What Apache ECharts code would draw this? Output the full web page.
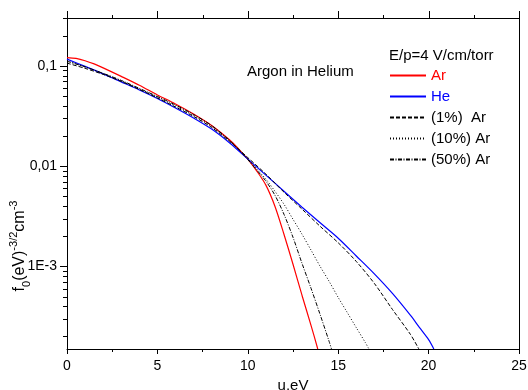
<!DOCTYPE html>
<html>
<head>
<meta charset="utf-8">
<script src="https://cdn.jsdelivr.net/npm/echarts@6/dist/echarts.min.js"></script>
<style>
  html, body { margin: 0; padding: 0; background: #fff; }
  #chart { width: 528px; height: 390px; }
</style>
</head>
<body>
<div id="chart"></div>
<script>
// Electron energy distribution f0(u), argon in helium, E/p = 4 V/cm/torr
var uAr   = [0, 0.5, 1, 1.5, 2, 3, 4, 5, 6, 7, 8, 9, 9.5, 10, 10.5, 11, 11.5, 12, 12.5, 13, 13.5, 13.87];
var fAr   = [0.121, 0.1185, 0.1125, 0.1045, 0.0955, 0.0785, 0.0641, 0.0513, 0.0417, 0.0331, 0.0254, 0.0182, 0.01479, 0.01175, 0.00891, 0.00646, 0.00398, 0.00209, 0.00105, 0.000513, 0.000257, 0.00015];

var uHe   = [0, 1, 2, 3, 4, 5, 6, 7, 8, 9, 10, 11, 12, 13, 14, 15, 16, 17, 18, 19, 19.5, 20, 20.29];
var fHe   = [0.1167, 0.0989, 0.0832, 0.0692, 0.0575, 0.0473, 0.0380, 0.0302, 0.0234, 0.0170, 0.01175, 0.00813, 0.00562, 0.00389, 0.00272, 0.00191, 0.00127, 0.000841, 0.000537, 0.000324, 0.000245, 0.000186, 0.00015];

var u1    = [0, 1, 2, 3, 4, 5, 6, 7, 8, 9, 10, 11, 12, 13, 14, 15, 16, 17, 18, 19, 19.46];
var f1    = [0.1064, 0.0944, 0.0822, 0.0700, 0.0582, 0.0479, 0.0389, 0.0313, 0.0243, 0.0176, 0.01216, 0.00832, 0.0055, 0.00372, 0.00251, 0.00172, 0.00112, 0.000676, 0.000372, 0.000209, 0.00015];

var u10   = [0, 1, 2, 3, 4, 5, 6, 7, 8, 9, 10, 10.5, 11, 11.5, 12, 12.5, 13, 13.5, 14, 14.5, 15, 15.5, 16, 16.5, 16.7];
var f10   = [0.1122, 0.0977, 0.0841, 0.0708, 0.0589, 0.0490, 0.0398, 0.0320, 0.0248, 0.0178, 0.0119, 0.00933, 0.00741, 0.00562, 0.00417, 0.00295, 0.00209, 0.00145, 0.0010, 0.000708, 0.00049, 0.000347, 0.000245, 0.000174, 0.00015];

var u50   = [0, 1, 2, 3, 4, 5, 6, 7, 8, 9, 9.5, 10, 10.5, 11, 11.5, 12, 12.5, 13, 13.5, 14, 14.5, 14.63];
var f50   = [0.111, 0.0977, 0.0841, 0.0716, 0.0596, 0.0495, 0.0407, 0.0327, 0.0254, 0.0180, 0.01462, 0.0116, 0.00912, 0.00708, 0.00513, 0.00331, 0.00195, 0.00107, 0.000603, 0.000331, 0.000178, 0.00015];

var xMajorTicks = [0, 5, 10, 15, 20, 25];
var xMinorTicks = [2.5, 7.5, 12.5, 17.5, 22.5];
var yMajorTicks = [0.001, 0.01, 0.1];
var yMajorLabels = ['1E-3', '0,01', '0,1'];
var yMinorTicks = [0.0002, 0.0003, 0.0004, 0.0005, 0.0006, 0.0007, 0.0008, 0.0009,
                   0.002, 0.003, 0.004, 0.005, 0.006, 0.007, 0.008, 0.009,
                   0.02, 0.03, 0.04, 0.05, 0.06, 0.07, 0.08, 0.09, 0.2, 0.3];

var FONT = 'Liberation Sans';
var Y_MAJOR_LEN = 7, Y_MINOR_LEN = 4;
var TOP_MAJOR_LEN = 7, TOP_MINOR_LEN = 3;
var Y_MIN = 0.00015, Y_MAX = 0.3;

function pairs(xs, ys) {
  return xs.map(function (x, i) { return [x, ys[i]]; });
}

function lineSeries(name, xs, ys, color, type, width) {
  return {
    name: name,
    type: 'line',
    xAxisIndex: 0,
    yAxisIndex: 0,
    data: pairs(xs, ys),
    showSymbol: false,
    symbol: 'none',
    smooth: 0.3,
    silent: true,
    animation: false,
    lineStyle: { color: color, width: width, type: type },
    itemStyle: { color: color }
  };
}

// tick marks on the logarithmic axis (left) and the mirrored frame edge (top)
var yTickData = yMajorTicks.map(function (v) { return [0, v, Y_MAJOR_LEN]; })
  .concat(yMinorTicks.map(function (v) { return [0, v, Y_MINOR_LEN]; }));
var topTickData = xMajorTicks.map(function (v) { return [v, Y_MAX, TOP_MAJOR_LEN]; })
  .concat(xMinorTicks.map(function (v) { return [v, Y_MAX, TOP_MINOR_LEN]; }));

function tickSeries(name, data, vertical) {
  return {
    name: name,
    type: 'custom',
    xAxisIndex: 0,
    yAxisIndex: 0,
    clip: false,
    silent: true,
    z: 5,
    data: data,
    encode: { x: 0, y: 1 },
    renderItem: function (params, api) {
      var p = api.coord([api.value(0), api.value(1)]);
      var len = api.value(2);
      var shape;
      if (vertical) {
        var xx = Math.round(p[0]) + 0.5;
        var y0 = Math.round(p[1]);
        shape = { x1: xx, y1: y0 - len, x2: xx, y2: y0 };
      } else {
        var yy = Math.round(p[1]) + 0.5;
        var x0 = Math.round(p[0]);
        shape = { x1: x0 - len, y1: yy, x2: x0, y2: yy };
      }
      return { type: 'line', shape: shape, style: { stroke: '#000', lineWidth: 1 } };
    }
  };
}

var chart = echarts.init(document.getElementById('chart'), null, { renderer: 'canvas' });

var axisLineStyle = { color: '#000', width: 1 };

chart.setOption({
  animation: false,
  backgroundColor: '#fff',
  textStyle: { fontFamily: FONT },
  grid: { left: 67, right: 9, top: 18, bottom: 41, outerBoundsMode: 'none', containLabel: false },
  title: [
    { text: 'Argon in Helium', left: 247, top: 64, padding: 0,
      textStyle: { fontFamily: FONT, fontSize: 15, fontWeight: 'normal', color: '#000' } },
    { text: 'E/p=4 V/cm/torr', left: 389, top: 48, padding: 0,
      textStyle: { fontFamily: FONT, fontSize: 15, fontWeight: 'normal', color: '#000' } }
  ],
  legend: {
    orient: 'vertical',
    left: 389,
    top: 68,
    padding: 0,
    itemWidth: 36,
    itemHeight: 14,
    itemGap: 6,
    selectedMode: false,
    itemStyle: { opacity: 0 },
    textStyle: { fontFamily: FONT, fontSize: 15, color: '#000' },
    data: [
      { name: 'Ar', textStyle: { color: '#ff0000' } },
      { name: 'He', textStyle: { color: '#0000ff' } },
      { name: '(1%)  Ar' },
      { name: '(10%) Ar' },
      { name: '(50%) Ar' }
    ]
  },
  xAxis: [
    {
      type: 'value', position: 'bottom', min: 0, max: 25, interval: 5,
      splitLine: { show: false },
      axisLine: { show: true, onZero: false, lineStyle: axisLineStyle },
      axisTick: { show: true, length: 5, lineStyle: axisLineStyle },
      minorTick: { show: true, splitNumber: 2, length: 3, lineStyle: axisLineStyle },
      axisLabel: { fontFamily: FONT, fontSize: 14, color: '#000', margin: 10 },
      name: 'u,eV', nameLocation: 'middle', nameGap: 26,
      nameTextStyle: { fontFamily: FONT, fontSize: 15, color: '#000' }
    },
    {
      type: 'value', position: 'top', min: 0, max: 25, interval: 5,
      splitLine: { show: false },
      axisLine: { show: true, onZero: false, lineStyle: axisLineStyle },
      axisTick: { show: false },
      minorTick: { show: false },
      axisLabel: { show: false }
    }
  ],
  yAxis: [
    {
      type: 'log', logBase: 10, position: 'left', min: Y_MIN, max: Y_MAX,
      splitLine: { show: false },
      axisLine: { show: true, onZero: false, lineStyle: axisLineStyle },
      axisTick: { show: false },
      axisLabel: {
        customValues: yMajorTicks,
        fontFamily: FONT, fontSize: 14, color: '#000', margin: 10,
        formatter: function (v) {
          for (var i = 0; i < yMajorTicks.length; i++) {
            if (Math.abs(Math.log10(v) - Math.log10(yMajorTicks[i])) < 1e-6) return yMajorLabels[i];
          }
          return '';
        }
      }
    },
    {
      type: 'value', position: 'right', min: 0, max: 1,
      splitLine: { show: false },
      axisLine: { show: true, onZero: false, lineStyle: axisLineStyle },
      axisTick: { show: false },
      axisLabel: { show: false }
    }
  ],
  graphic: [
    {
      type: 'text',
      x: 20, y: 246,
      rotation: Math.PI / 2,
      style: {
        text: 'f{sub|0}(eV){sup|-3/2}cm{sup|-3}',
        fontFamily: FONT, fontSize: 16, fill: '#000',
        align: 'center', verticalAlign: 'middle',
        rich: {
          sub: { fontFamily: FONT, fontSize: 11, fill: '#000', verticalAlign: 'bottom', lineHeight: 24 },
          sup: { fontFamily: FONT, fontSize: 11, fill: '#000', verticalAlign: 'top', lineHeight: 24 }
        }
      }
    }
  ],
  series: [
    lineSeries('Ar', uAr, fAr, '#ff0000', 'solid', 1.2),
    lineSeries('He', uHe, fHe, '#0000ff', 'solid', 1.2),
    lineSeries('(1%)  Ar', u1, f1, '#000', [4, 2], 1),
    lineSeries('(10%) Ar', u10, f10, '#000', [1, 2], 1),
    lineSeries('(50%) Ar', u50, f50, '#000', [4, 1.5, 1, 1.5], 1),
    tickSeries('yTicks', yTickData, false),
    tickSeries('topTicks', topTickData, true)
  ]
});
</script>
</body>
</html>
